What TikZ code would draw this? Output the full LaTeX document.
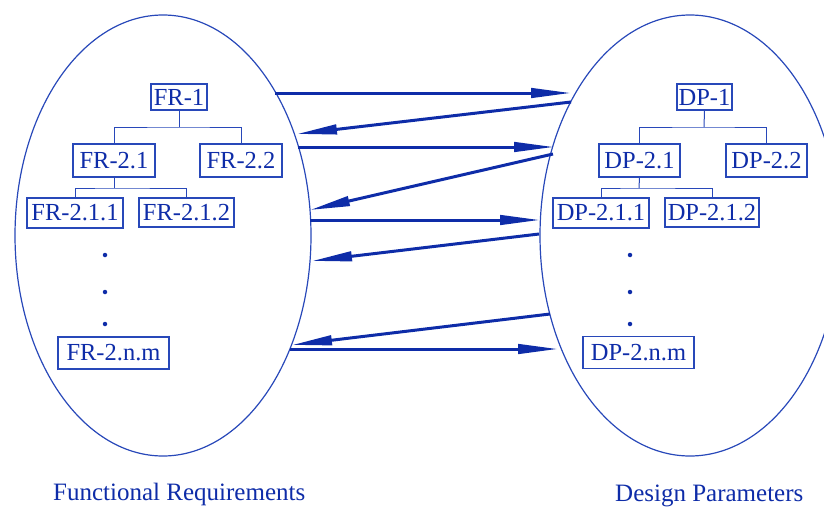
\documentclass[tikz,border=0pt]{standalone}
\usepackage{fontspec}
\setmainfont{Liberation Serif}
\usetikzlibrary{arrows.meta}
\definecolor{dblue}{RGB}{14,44,168}
\definecolor{lblue}{RGB}{40,72,185}
\begin{document}
\begin{tikzpicture}[x=1pt,y=-1pt,
  box/.style={draw=lblue, line width=1.1pt, text=dblue, inner sep=0pt, font=\fontsize{24.5}{28}\selectfont},
  tree/.style={draw=lblue, line width=1pt},
  oval/.style={draw=lblue, line width=1.2pt},
  flow/.style={draw=dblue, line width=3pt, -{Triangle[length=40pt,width=9.5pt]}},
  caption/.style={text=dblue, font=\fontsize{25}{28}\selectfont, inner sep=0pt},
  dotmark/.style={circle, fill=dblue, inner sep=0pt, minimum size=4.5pt}]
\useasboundingbox (0,0) rectangle (824,506);
\clip (0,0) rectangle (824,506);
% ellipses
\draw[oval] (163,235.5) ellipse [x radius=148, y radius=220.5];
\draw[oval] (690,235.5) ellipse [x radius=150, y radius=220.5];
% left tree
\node[box, minimum width=56pt, minimum height=26pt] (fr1) at (179,97) {FR-1};
\node[box, minimum width=82pt, minimum height=33pt] (fr21) at (114,160.5) {FR-2.1};
\node[box, minimum width=82pt, minimum height=33pt] (fr22) at (241,160.5) {FR-2.2};
\node[box, minimum width=96pt, minimum height=30pt] (fr211) at (75,213) {FR-2.1.1};
\node[box, minimum width=95pt, minimum height=29pt] (fr212) at (186.5,212.5) {FR-2.1.2};
\node[box, minimum width=111pt, minimum height=32pt] (frnm) at (113.5,353) {FR-2.n.m};
\coordinate (b1) at (179,127);
\coordinate (b2) at (114,188);
\draw[tree] (fr1.south) -- (b1);
\draw[tree] (fr21.north) |- (b1) -| (fr22.north);
\draw[tree] (fr21.south) -- (b2);
\draw[tree] (fr211.north) |- (b2) -| (fr212.north);
\node[dotmark] (fd1) at (105,255) {};
\node[dotmark] (fd2) at (105,292) {};
\node[dotmark] (fd3) at (105,324) {};
% right tree
\node[box, minimum width=55pt, minimum height=26pt] (dp1) at (704.5,97) {DP-1};
\node[box, minimum width=81pt, minimum height=33pt] (dp21) at (639.5,160.5) {DP-2.1};
\node[box, minimum width=81pt, minimum height=33pt] (dp22) at (766.5,160.5) {DP-2.2};
\node[box, minimum width=96pt, minimum height=30pt] (dp211) at (601,213) {DP-2.1.1};
\node[box, minimum width=94pt, minimum height=29pt] (dp212) at (712,212.5) {DP-2.1.2};
\node[box, minimum width=111pt, minimum height=32pt] (dpnm) at (638.5,352.5) {DP-2.n.m};
\coordinate (c1) at (704,127);
\coordinate (c2) at (639,188);
\draw[tree] (dp1.south) -- (c1);
\draw[tree] (dp21.north) |- (c1) -| (dp22.north);
\draw[tree] (dp21.south) -- (c2);
\draw[tree] (dp211.north) |- (c2) -| (dp212.north);
\node[dotmark] (dd1) at (630,255) {};
\node[dotmark] (dd2) at (630,292) {};
\node[dotmark] (dd3) at (630,324) {};
% arrows
\coordinate (a1s) at (275,93);   \coordinate (a1e) at (571,93);
\coordinate (a2s) at (571,102);  \coordinate (a2e) at (297,134);
\coordinate (a3s) at (298,147);  \coordinate (a3e) at (554,147);
\coordinate (a4s) at (553,154);  \coordinate (a4e) at (310,210);
\coordinate (a5s) at (310,220);  \coordinate (a5e) at (540,220);
\coordinate (a6s) at (539,234);  \coordinate (a6e) at (312,261);
\coordinate (a7s) at (550,314);  \coordinate (a7e) at (292,345);
\coordinate (a8s) at (290,349);  \coordinate (a8e) at (558,349);
\draw[flow] (a1s) -- (a1e);
\draw[flow] (a2s) -- (a2e);
\draw[flow] (a3s) -- (a3e);
\draw[flow] (a4s) -- (a4e);
\draw[flow] (a5s) -- (a5e);
\draw[flow] (a6s) -- (a6e);
\draw[flow] (a7s) -- (a7e);
\draw[flow] (a8s) -- (a8e);
% captions
\node[caption, anchor=base west] (capfr) at (53,500) {Functional Requirements};
\node[caption, anchor=base west] (capdp) at (615,501) {Design Parameters};
\end{tikzpicture}
\end{document}
